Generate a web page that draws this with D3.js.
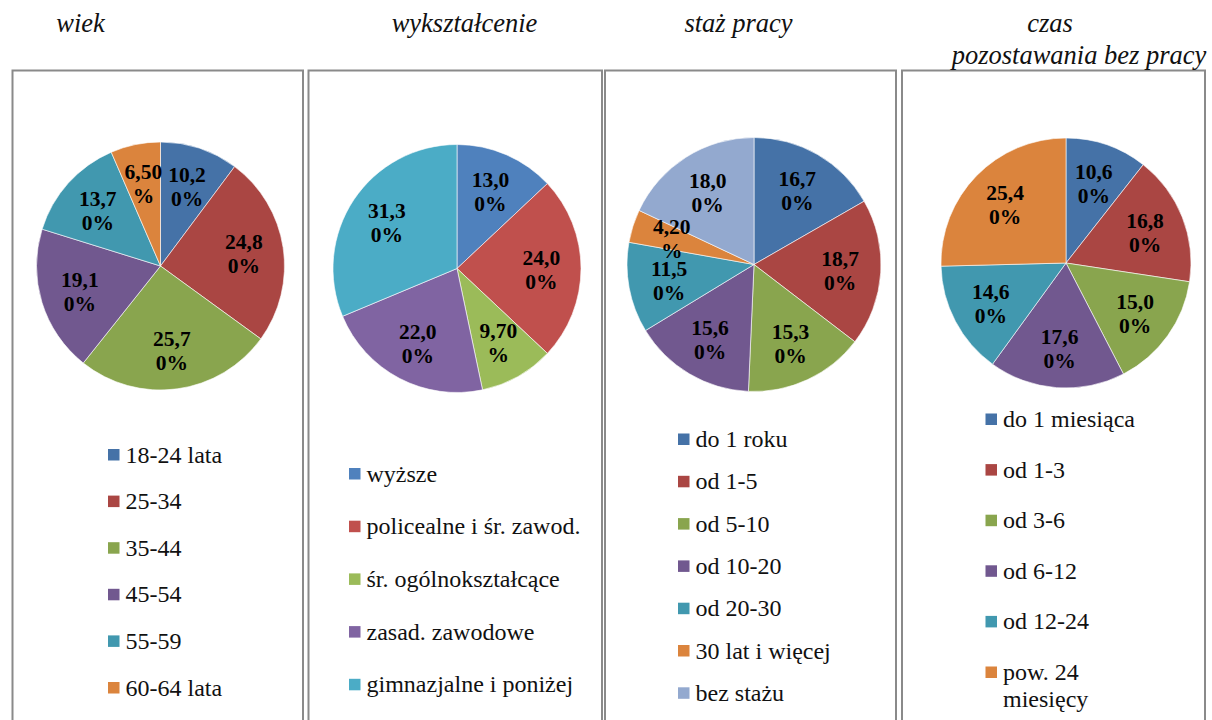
<!DOCTYPE html>
<html>
<head>
<meta charset="utf-8">
<script src="https://cdn.jsdelivr.net/npm/d3@7"></script>
<style>
  body { margin: 0; background: #fff; }
  svg text { font-family: "Liberation Serif", "Times New Roman", serif; }
</style>
</head>
<body>
<svg id="chart" width="1212" height="720"></svg>
<script>
// titles of the four panels
const titles = [["wiek"], ["wykształcenie"], ["staż pracy"], ["czas", "pozostawania bez pracy"]];

// wiek
const ageCats = ["18-24 lata", "25-34", "35-44", "45-54", "55-59", "60-64 lata"];
const ageVals = [10.2, 24.8, 25.7, 19.1, 13.7, 6.5];

// wykształcenie
const eduCats = ["wyższe", "policealne i śr. zawod.", "śr. ogólnokształcące", "zasad. zawodowe", "gimnazjalne i poniżej"];
const eduVals = [13.0, 24.0, 9.7, 22.0, 31.3];

// staż pracy
const workCats = ["do 1 roku", "od 1-5", "od 5-10", "od 10-20", "od 20-30", "30 lat i więcej", "bez stażu"];
const workVals = [16.7, 18.7, 15.3, 15.6, 11.5, 4.2, 18.0];

// czas pozostawania bez pracy
const timeCats = ["do 1 miesiąca", "od 1-3", "od 3-6", "od 6-12", "od 12-24", "pow. 24 miesięcy"];
const timeVals = [10.6, 16.8, 15.0, 17.6, 14.6, 25.4];

const darkColors = ["#4572A7", "#AA4643", "#89A54E", "#71588F", "#4198AF", "#DB843D", "#93A9CF"];
const lightColors = ["#4F81BD", "#C0504D", "#9BBB59", "#8064A2", "#4BACC6"];

// layout of each panel
const panels = [
  {cats: ageCats, vals: ageVals, colors: darkColors, box: [12.5, 303], title: [[80.5, 32]],
   cx: 160.5, cy: 266, r: 124, legX: 108, legY: 449, legStep: 46.6, wrap: 999},
  {cats: eduCats, vals: eduVals, colors: lightColors, box: [308.5, 602], title: [[464.5, 32]],
   cx: 457, cy: 268.5, r: 124, legX: 349, legY: 468, legStep: 52.7, wrap: 999},
  {cats: workCats, vals: workVals, colors: darkColors, box: [605, 896], title: [[738.5, 32]],
   cx: 754, cy: 264.5, r: 127, legX: 678, legY: 433.5, legStep: 42.3, wrap: 999},
  {cats: timeCats, vals: timeVals, colors: darkColors, box: [902, 1205], title: [[1050, 32], [1079, 63.5]],
   cx: 1066, cy: 263, r: 125, legX: 985.5, legY: 413.5, legStep: 50.6, wrap: 150}
];

const svg = d3.select("#chart");

const pie = d3.pie().sort(null).value(function (d) { return d.value });

function fmt(v) {
  let s = v.toFixed(2).replace(".", ",") + "%";
  return [s.slice(0, 4), s.slice(4)];
}

panels.forEach(function (p, pi) {
  let g = svg.append("g");

  // frame
  g.append("rect")
    .attr("x", p.box[0])
    .attr("y", 70.5)
    .attr("width", p.box[1] - p.box[0])
    .attr("height", 700)
    .attr("fill", "none")
    .attr("stroke", "#8a8a8a")
    .attr("stroke-width", 2);

  // title
  titles[pi].forEach(function (t, i) {
    g.append("text")
      .attr("x", p.title[i][0])
      .attr("y", p.title[i][1])
      .attr("text-anchor", "middle")
      .attr("font-style", "italic")
      .attr("font-size", 26.5)
      .attr("fill", "#111")
      .text(t);
  });

  let data = p.cats.map(function (c, i) {
    return {cat: c, value: p.vals[i]}
  });

  let color = d3.scaleOrdinal().domain(p.cats).range(p.colors);

  let arc = d3.arc().innerRadius(0).outerRadius(p.r);
  let labelArc = d3.arc().innerRadius(p.r * 0.68).outerRadius(p.r * 0.68);

  let pg = g.append("g").attr("transform", `translate(${p.cx}, ${p.cy})`);

  let arcs = pie(data);

  pg.selectAll("path")
    .data(arcs)
    .join("path")
    .attr("d", arc)
    .attr("fill", function (d) { return color(d.data.cat) })
    .attr("stroke", "#fff")
    .attr("stroke-width", 0.6);

  let lab = pg.selectAll(".lab")
    .data(arcs)
    .join("text")
    .attr("class", "lab")
    .attr("text-anchor", "middle")
    .attr("font-weight", "bold")
    .attr("font-size", 21.5)
    .attr("fill", "#000")
    .attr("transform", function (d) {
      let c = labelArc.centroid(d);
      return `translate(${c[0]}, ${c[1]})`
    });

  lab.each(function (d) {
    let parts = fmt(d.data.value);
    let t = d3.select(this);
    t.append("tspan").attr("x", 0).attr("y", -4).text(parts[0]);
    t.append("tspan").attr("x", 0).attr("y", 20).text(parts[1]);
  });

  // legend
  let lg = g.append("g");
  p.cats.forEach(function (c, i) {
    let y = p.legY + i * p.legStep;
    lg.append("rect")
      .attr("x", p.legX)
      .attr("y", y)
      .attr("width", 11.5)
      .attr("height", 11.5)
      .attr("fill", color(c));
    let txt = lg.append("text")
      .attr("x", p.legX + 17.5)
      .attr("y", y + 13.5)
      .attr("font-size", 24)
      .attr("fill", "#111");
    // simple word wrap
    let words = c.split(" ");
    let line = [];
    let ts = txt.append("tspan").attr("x", p.legX + 17.5).attr("dy", 0);
    words.forEach(function (w) {
      line.push(w);
      ts.text(line.join(" "));
      if (ts.node().getComputedTextLength() > p.wrap && line.length > 1) {
        line.pop();
        ts.text(line.join(" "));
        line = [w];
        ts = txt.append("tspan").attr("x", p.legX + 17.5).attr("dy", 26.5).text(w);
      }
    });
  });
});
</script>
</body>
</html>
